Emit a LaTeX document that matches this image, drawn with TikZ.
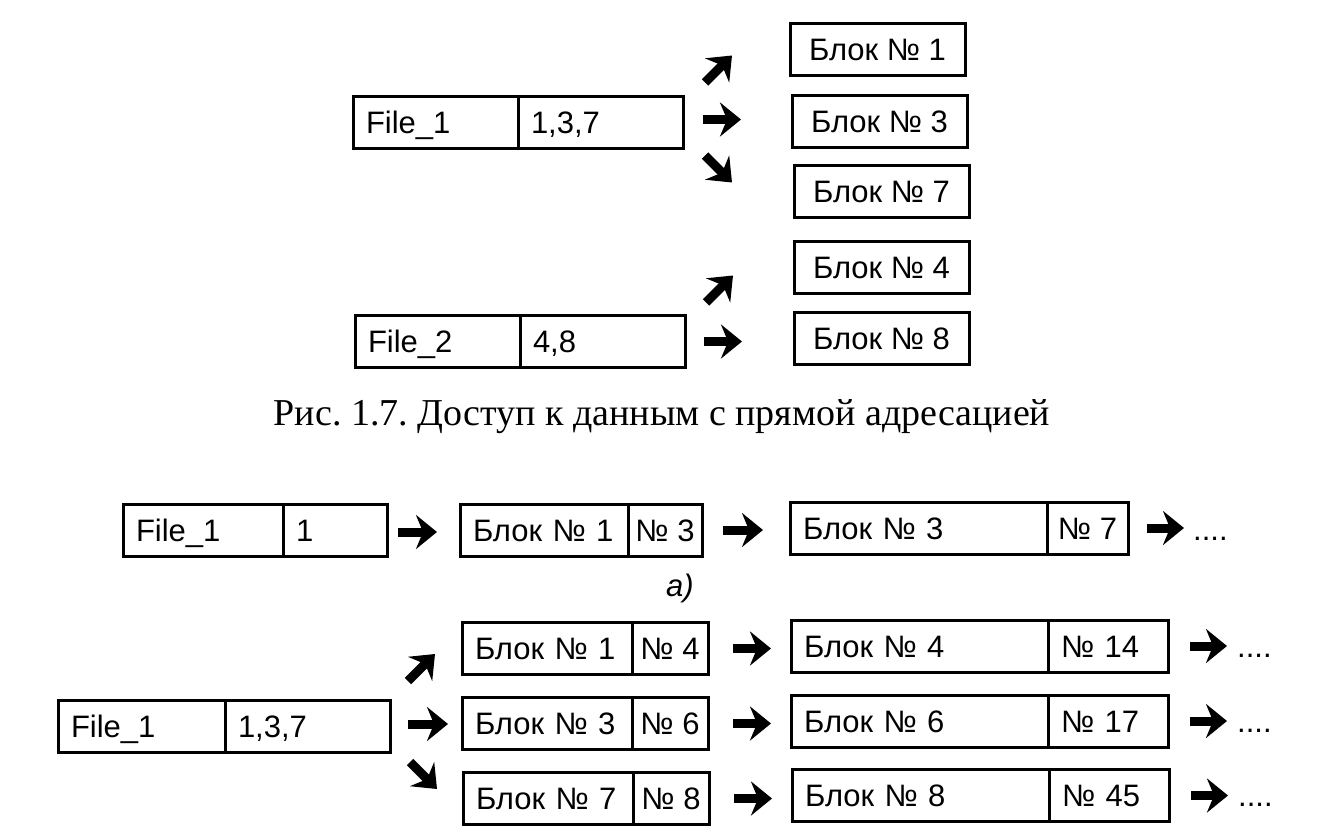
\documentclass[tikz,border=0pt]{standalone}
\usepackage{fontspec}
\setmainfont{Liberation Sans}
\newfontfamily\capfont{Liberation Serif}
\usetikzlibrary{positioning,calc,arrows.meta}
\frenchspacing

\tikzset{
  frm/.style={draw,line width=3pt,outer sep=0pt,inner ysep=0pt,minimum height=52pt,text height=22pt,text depth=0pt},
  lcell/.style={frm,inner xsep=13pt,text width=#1,align=left},
  ccell/.style={frm,inner xsep=0pt,minimum width=#1},
  fatarrow/.style={line width=9pt,-{Stealth[length=21pt,width=34pt,inset=7pt]}}
}

\begin{document}
\begin{tikzpicture}[x=1pt,y=-1pt,font=\fontsize{31}{36}\selectfont]
\useasboundingbox (0,0) rectangle (1318,836);

\node[lcell=139pt,anchor=west] (f1a) at (353,122.5) {File\_1};
\node[lcell=139pt,right=0pt of f1a] (f1b) {1,3,7};
\node[ccell=175pt,anchor=west] (b1) at (790,49.5) {Блок №~1};
\node[ccell=175pt,anchor=west] (b3) at (792,121.5) {Блок №~3};
\node[ccell=175pt,anchor=west] (b7) at (794,191.5) {Блок №~7};
\draw[fatarrow] ($(f1b.east)+(22,-40)$) -- ++(27,-27);
\draw[fatarrow] ($(f1b.east)+(20,-3)$) -- ++(38,0);
\draw[fatarrow] ($(f1b.east)+(22,33)$) -- ++(27,27);

\node[lcell=139pt,anchor=west] (f2a) at (355,341.5) {File\_2};
\node[lcell=139pt,right=0pt of f2a] (f2b) {4,8};
\node[ccell=175pt,anchor=west] (b4) at (794,267.5) {Блок №~4};
\node[ccell=175pt,anchor=west] (b8) at (794,338.5) {Блок №~8};
\draw[fatarrow] ($(f2b.east)+(21,-39)$) -- ++(27,-27);
\draw[fatarrow] ($(f2b.east)+(19,0)$) -- ++(38,0);

\node[font=\capfont\fontsize{38}{44}\selectfont,anchor=base] (cap) at (662,425) {Рис. 1.7. Доступ к данным с прямой адресацией};

\node[lcell=134pt,anchor=west] (a1) at (123,530) {File\_1};
\node[lcell=78pt,right=0pt of a1] (a1n) {1};
\node[lcell=142pt,anchor=west] (a2) at (460,530) {Блок №~1};
\node[ccell=74pt,right=0pt of a2] (a2n) {№~3};
\node[lcell=231pt,anchor=west] (a3) at (790,528) {Блок №~3};
\node[ccell=81pt,right=0pt of a3] (a3n) {№~7};
\node[anchor=base west,inner sep=0pt] (a3d) at ($(a3n.east)+(65,12)$) {....};
\draw[fatarrow] ($(a1n.east)+(11,2)$) -- ++(39,0);
\draw[fatarrow] ($(a2n.east)+(21,0)$) -- ++(40,0);
\draw[fatarrow] ($(a3n.east)+(19,0)$) -- ++(37,0);
\node[font=\itshape\fontsize{31}{36}\selectfont] (alab) at (680,588) {а)};

\node[lcell=141pt,anchor=west] (c0a) at (58,726) {File\_1};
\node[lcell=139pt,right=0pt of c0a] (c0b) {1,3,7};
\draw[fatarrow] ($(c0b.east)+(18,-45)$) -- ++(27,-27);
\draw[fatarrow] ($(c0b.east)+(18,-2)$) -- ++(40,0);
\draw[fatarrow] ($(c0b.east)+(20,36)$) -- ++(27,27);

\node[lcell=144pt,anchor=west] (c1a) at (462,648.5) {Блок №~1};
\node[ccell=76pt,right=0pt of c1a] (c1b) {№~4};
\node[lcell=144pt,anchor=west] (c2a) at (462,723.5) {Блок №~3};
\node[ccell=76pt,right=0pt of c2a] (c2b) {№~6};
\node[lcell=144pt,anchor=west] (c3a) at (463,798.5) {Блок №~7};
\node[ccell=76pt,right=0pt of c3a] (c3b) {№~8};
\draw[fatarrow] ($(c1b.east)+(25,0)$) -- ++(38,0);
\draw[fatarrow] ($(c2b.east)+(25,0)$) -- ++(38,0);
\draw[fatarrow] ($(c3b.east)+(25,0)$) -- ++(38,0);

\node[lcell=231pt,anchor=west] (d1a) at (791,646) {Блок №~4};
\node[lcell=94pt,right=0pt of d1a] (d1b) {№~14};
\node[lcell=231pt,anchor=west] (d2a) at (791,721) {Блок №~6};
\node[lcell=94pt,right=0pt of d2a] (d2b) {№~17};
\node[lcell=231pt,anchor=west] (d3a) at (792,795.5) {Блок №~8};
\node[lcell=94pt,right=0pt of d3a] (d3b) {№~45};
\draw[fatarrow] ($(d1b.east)+(22,0)$) -- ++(37,0);
\draw[fatarrow] ($(d2b.east)+(22,0)$) -- ++(37,0);
\draw[fatarrow] ($(d3b.east)+(22,0)$) -- ++(37,0);
\node[anchor=base west,inner sep=0pt] (d1d) at ($(d1b.east)+(69,11)$) {....};
\node[anchor=base west,inner sep=0pt] (d2d) at ($(d2b.east)+(69,11)$) {....};
\node[anchor=base west,inner sep=0pt] (d3d) at ($(d3b.east)+(69,11)$) {....};
\end{tikzpicture}
\end{document}
